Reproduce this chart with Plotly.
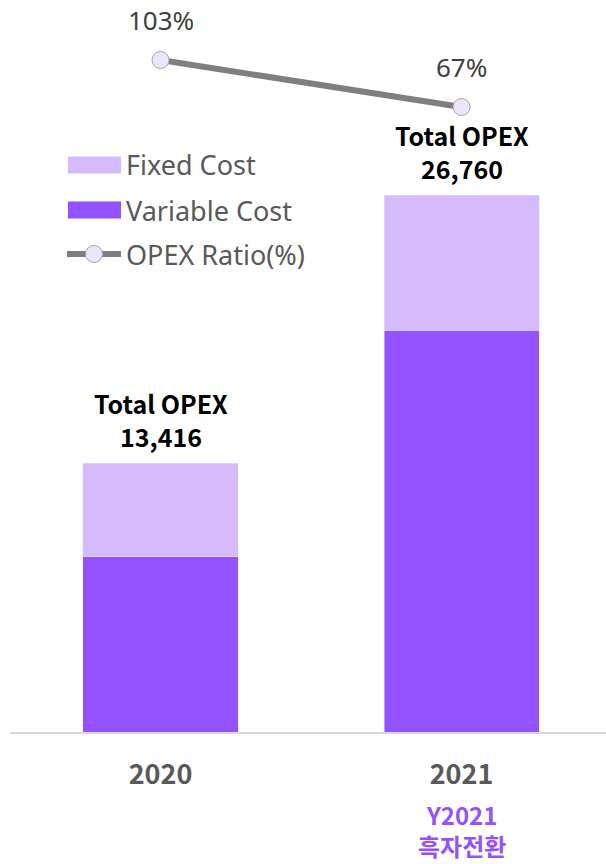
import plotly.graph_objects as go

categories = ["2020", "2021"]
variable_cost = [8730, 20050]
fixed_cost = [4686, 6710]
total_opex = [13416, 26760]
opex_ratio = [103, 67]
ratio_labels = ["103%", "67%"]
total_labels = ["13,416", "26,760"]
note_lines = ["Y2021", "흑자전환"]

FIXED = "#D5BAFC"
VAR = "#9452FF"
LINE = "#7F7F7F"
MARK = "#EDE6FB"
FONT = "Noto Sans, Noto Sans CJK KR, sans-serif"
BOLD = "Noto Sans CJK KR, Noto Sans, sans-serif"

x = [0, 1]

fig = go.Figure()
fig.add_trace(go.Bar(x=x, y=variable_cost, name="Variable Cost", marker_color=VAR,
                     width=0.515, showlegend=False))
fig.add_trace(go.Bar(x=x, y=fixed_cost, name="Fixed Cost", marker_color=FIXED,
                     width=0.515, showlegend=False))
fig.add_trace(go.Scatter(x=x, y=opex_ratio, name="OPEX Ratio(%)", yaxis="y2",
                         mode="lines+markers",
                         line=dict(color=LINE, width=6),
                         marker=dict(size=17, color=MARK, line=dict(color="#A6A6A6", width=1)),
                         showlegend=False))

# ratio labels
for xi, v, t in zip(x, opex_ratio, ratio_labels):
    fig.add_annotation(x=xi, y=v, yref="y2", text=t, showarrow=False, borderpad=0,
                       yshift=40, font=dict(family=FONT, size=26, color="#404040"))

# total labels
for xi, v, t in zip(x, total_opex, total_labels):
    fig.add_annotation(x=xi, y=v, text="<b>" + t + "</b>", showarrow=False,
                       yshift=27, font=dict(family=BOLD, size=25, color="#000000"))
    fig.add_annotation(x=xi, y=v, text="<b>Total OPEX</b>", showarrow=False,
                       yshift=60, font=dict(family=BOLD, size=25, color="#000000"))

# page-pixel helpers
H = 732.0
def py(p):
    return (732 - p) / H
def px(p):
    return (p - 10) / 596.0

# note under 2021
fig.add_annotation(x=1, y=py(830), yref="paper",
                   text="<b>" + "<br>".join(note_lines) + "</b>",
                   showarrow=False, yanchor="middle", borderpad=0,
                   font=dict(family=BOLD, size=24, color="#9452FF"))

# custom legend
legend_items = [("Fixed Cost", FIXED), ("Variable Cost", VAR)]
for i, (name, col) in enumerate(legend_items):
    cy = 165 + 45 * i
    fig.add_shape(type="rect", xref="paper", yref="paper",
                  x0=px(68), x1=px(121), y0=py(cy + 8.5), y1=py(cy - 8.5),
                  fillcolor=col, line_width=0)
    fig.add_annotation(xref="paper", yref="paper", x=px(124), y=py(cy), text=name,
                       xanchor="left", yanchor="middle", showarrow=False,
                       font=dict(family=FONT, size=27, color="#595959"))
cy = 254
fig.add_shape(type="line", xref="paper", yref="paper", x0=px(67), x1=px(121),
              y0=py(cy), y1=py(cy), line=dict(color=LINE, width=6))
fig.add_shape(type="circle", xref="paper", yref="paper",
              x0=px(85.5), x1=px(102.5), y0=py(cy + 8.5), y1=py(cy - 8.5),
              fillcolor=MARK, line=dict(color="#A6A6A6", width=1))
fig.add_annotation(xref="paper", yref="paper", x=px(124), y=py(cy), text="OPEX Ratio(%)",
                   xanchor="left", yanchor="middle", showarrow=False,
                   font=dict(family=FONT, size=27, color="#595959"))

fig.update_layout(
    width=606, height=864,
    margin=dict(l=10, r=0, t=0, b=132),
    barmode="stack",
    plot_bgcolor="white", paper_bgcolor="white",
    showlegend=False,
    xaxis=dict(range=[-0.5, 1.48], tickmode="array", tickvals=x,
               ticktext=["<b>" + c + "</b>" for c in categories],
               tickfont=dict(family=BOLD, size=27, color="#595959"),
               showline=True, linecolor="#D9D9D9", linewidth=2,
               showgrid=False, zeroline=False, ticks="", ticklabelstandoff=18),
    yaxis=dict(range=[0, 36510], visible=False, showgrid=False, zeroline=False),
    yaxis2=dict(range=[-411.7, 148.96], overlaying="y", visible=False,
                showgrid=False, zeroline=False),
)

fig.write_html("out.html", config={"displayModeBar": False},
               post_script="document.body.style.margin='0';document.body.style.overflow='hidden';")
